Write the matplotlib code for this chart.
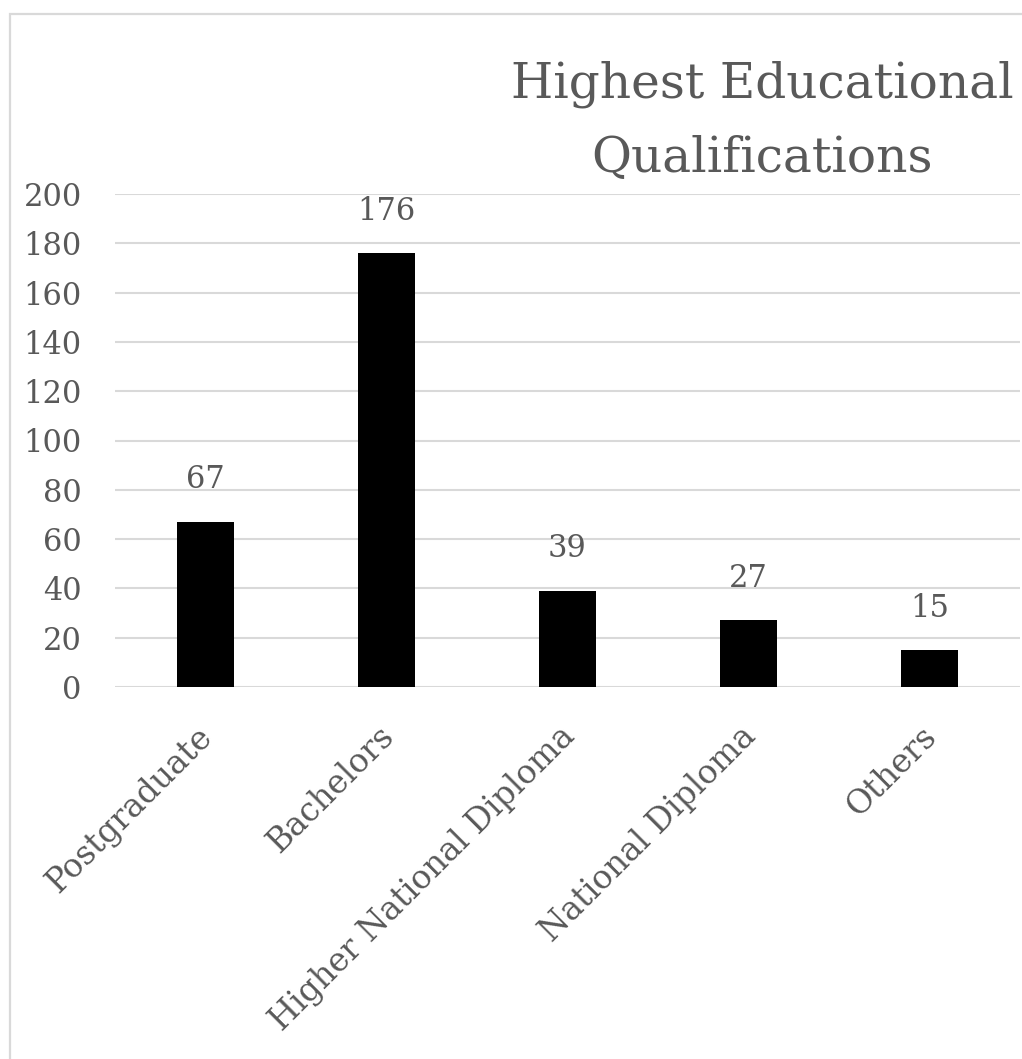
import matplotlib.pyplot as plt
import matplotlib.transforms as mtransforms
from matplotlib.patches import Rectangle

categories = ["Postgraduate", "Bachelors", "Higher National Diploma", "National Diploma", "Others"]
values = [67, 176, 39, 27, 15]
yticks = [0, 20, 40, 60, 80, 100, 120, 140, 160, 180, 200]
title_lines = ["Highest Educational", "Qualifications"]

TXT = "#595959"
GRID = "#d9d9d9"

def main():
	plt.rcParams['font.family'] = ['DejaVu Serif']
	fig = plt.figure(figsize=(10.22, 10.59), dpi=100)

	# chart area border (cropped on right and bottom like the source)
	fig.patches.append(Rectangle((10/1022, -0.1), 1.2, (1059-14)/1059 + 0.1,
		transform=fig.transFigure, fill=False, edgecolor=GRID, lw=1.6))

	ax = fig.add_axes([115/1022, 372/1059, 905/1022, 493/1059])
	x = list(range(len(categories)))
	ax.bar(x, values, width=0.31, color="black", zorder=3)
	ax.set_xlim(-0.5, len(categories) - 0.5)
	ax.set_ylim(0, 200)
	ax.set_yticks(yticks)
	ax.set_yticklabels([str(t) for t in yticks], fontsize=22, color=TXT)
	for t in yticks:
		ax.axhline(t, color=GRID, lw=1.5, zorder=1)
	for s in ax.spines.values():
		s.set_visible(False)
	ax.tick_params(axis='y', length=0, pad=24)
	ax.tick_params(axis='x', length=0, pad=17)
	ax.set_xticks(x)
	ax.set_xticklabels(categories, rotation=45, ha='right', va='top',
		rotation_mode='anchor', fontsize=23.5, color=TXT)
	# nudge rotated labels down-left a little
	shift = mtransforms.ScaledTranslation(-0.09, -0.1, fig.dpi_scale_trans)
	for lbl in ax.get_xticklabels():
		lbl.set_transform(lbl.get_transform() + shift)

	for i, v in enumerate(values):
		ax.annotate(str(v), (i, v), xytext=(0, 19), textcoords='offset points',
			ha='center', va='bottom', fontsize=22, color=TXT)

	fig.text(762/1022, 1 - 98/1059, title_lines[0], ha='center', va='baseline',
		fontsize=35, color=TXT)
	fig.text(762/1022, 1 - 172/1059, title_lines[1], ha='center', va='baseline',
		fontsize=35, color=TXT)

	plt.savefig("out.png", dpi=100)

if __name__ == "__main__":
	main()
